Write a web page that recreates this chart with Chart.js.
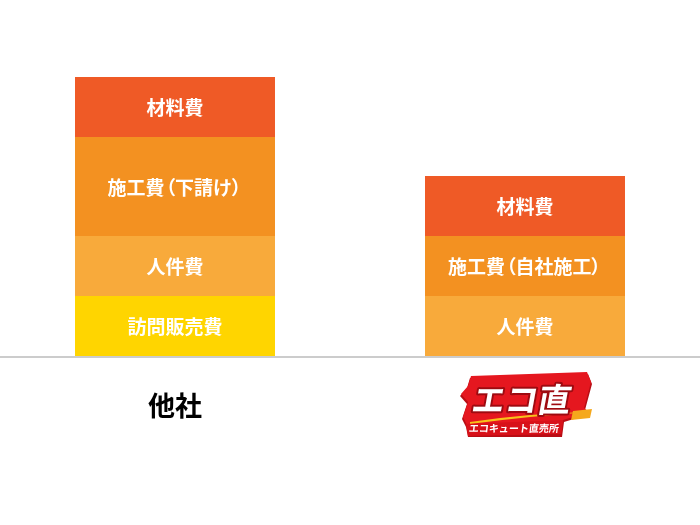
<!DOCTYPE html>
<html>
<head>
<meta charset="utf-8">
<script src="https://cdn.jsdelivr.net/npm/chart.js@4/dist/chart.umd.min.js"></script>
<style>
html,body{margin:0;padding:0;background:#fff;}
canvas{display:block;}
</style>
</head>
<body>
<canvas id="c" width="700" height="525"></canvas>
<script>
// ---- data ----
const categories = ['他社', 'エコ直'];
const logoSubtitle = 'エコキュート直売所';
const seriesNames = ['訪問販売費', '人件費', '施工費', '材料費'];
const houmonValues = [20, 0];
const jinkenValues = [20, 20];
const sekouValues = [33, 20];
const zairyouValues = [20, 20];
const houmonLabels = ['訪問販売費', ''];
const jinkenLabels = ['人件費', '人件費'];
const sekouLabels = ['施工費（下請け）', '施工費（自社施工）'];
const zairyouLabels = ['材料費', '材料費'];
const yMax = 110;

const FONT = '"Noto Sans CJK JP", "Noto Sans", sans-serif';

// draw text with proportional (half-width) full-width parentheses
function drawPropText(ctx, txt, cx, cy, size) {
  const chars = Array.from(txt);
  const adv = chars.map(ch => (ch === '（' || ch === '）') ? size * 0.55 : ctx.measureText(ch).width);
  const total = adv.reduce((a, b) => a + b, 0);
  let x = cx - total / 2;
  ctx.textAlign = 'left';
  chars.forEach((ch, i) => {
    let dx = 0;
    if (ch === '（') dx = -(size - adv[i]) + size * 0.05;
    if (ch === '）') dx = -size * 0.05;
    ctx.fillText(ch, x + dx, cy);
    x += adv[i];
  });
}

const segLabelPlugin = {
  id: 'segLabels',
  afterDatasetsDraw(chart) {
    const ctx = chart.ctx;
    const size = 19;
    ctx.save();
    ctx.fillStyle = '#ffffff';
    ctx.font = 'bold ' + size + 'px ' + FONT;
    ctx.textBaseline = 'middle';
    chart.data.datasets.forEach((ds, di) => {
      const meta = chart.getDatasetMeta(di);
      meta.data.forEach((el, i) => {
        const txt = ds.segLabels[i];
        if (!txt || !ds.data[i]) return;
        const p = el.getProps(['x', 'y', 'base'], true);
        drawPropText(ctx, txt, p.x, (p.y + p.base) / 2 + 1, size);
      });
    });
    ctx.restore();
  }
};

const axisPlugin = {
  id: 'axisAndCats',
  afterDraw(chart) {
    const ctx = chart.ctx;
    const ys = chart.scales.y, xs = chart.scales.x;
    const y0 = ys.getPixelForValue(0);
    ctx.save();
    ctx.fillStyle = '#cccccc';
    ctx.fillRect(0, Math.round(y0), chart.width, 2);

    const x1 = xs.getPixelForValue(0);
    ctx.fillStyle = '#000';
    ctx.font = 'bold 27px ' + FONT;
    ctx.textAlign = 'center';
    ctx.textBaseline = 'middle';
    ctx.fillText(categories[0], x1, y0 + 50);

    const cx = xs.getPixelForValue(1);
    const cy = y0 + 47;
    drawLogo(ctx, cx, cy, categories[1], logoSubtitle);
    ctx.restore();
  }
};

function poly(ctx, pts, ox, oy, color) {
  ctx.beginPath();
  pts.forEach((p, i) => i ? ctx.lineTo(ox + p[0], oy + p[1]) : ctx.moveTo(ox + p[0], oy + p[1]));
  ctx.closePath();
  ctx.fillStyle = color;
  ctx.fill();
}

function drawLogo(ctx, cx, cy, title, sub) {
  const ox = cx, oy = cy;
  poly(ctx, [[-55,-26],[63,-30],[67,-20],[60,6],[65,10],[39,18],[37,33],[-57,33],[-59,23],[-63,15],[-58,0],[-65,-8],[-58,-16]], ox, oy + 1, '#b80d14');
  poly(ctx, [[-54,-27],[62,-31],[66,-21],[59,5],[64,9],[38,17],[36,31],[-56,31],[-58,22],[-62,14],[-57,-1],[-64,-9],[-57,-17]], ox, oy, '#e5171f');
  ctx.beginPath();
  ctx.moveTo(ox - 55, oy + 19);
  ctx.quadraticCurveTo(ox + 5, oy + 10, ox + 66, oy + 9);
  ctx.quadraticCurveTo(ox + 5, oy + 13, ox - 55, oy + 21);
  ctx.closePath();
  ctx.fillStyle = '#f7c21a';
  ctx.fill();
  poly(ctx, [[48,8],[67,6],[65,15],[46,17]], ox, oy, '#f5a81c');
  poly(ctx, [[-59,21],[38,17],[36,31],[-57,33]], ox, oy, '#d81119');

  ctx.save();
  ctx.translate(ox - 3, oy - 4);
  ctx.transform(1, 0, -0.18, 1, 0, 0);
  ctx.font = 'bold 33px ' + FONT;
  ctx.textAlign = 'center';
  ctx.textBaseline = 'middle';
  ctx.lineJoin = 'round';
  ctx.lineWidth = 4;
  ctx.strokeStyle = '#9e0a10';
  ctx.strokeText(title, 0, 0);
  ctx.fillStyle = '#ffffff';
  ctx.fillText(title, 0, 0);
  ctx.restore();

  ctx.save();
  ctx.translate(ox - 11, oy + 25);
  ctx.transform(1, 0, -0.12, 1, 0, 0);
  ctx.font = 'bold 10px ' + FONT;
  ctx.textAlign = 'center';
  ctx.textBaseline = 'middle';
  ctx.fillStyle = '#ffffff';
  ctx.fillText(sub, 0, 0);
  ctx.restore();
}

new Chart(document.getElementById('c'), {
  type: 'bar',
  data: {
    labels: categories,
    datasets: [
      { label: seriesNames[0], data: houmonValues, segLabels: houmonLabels, backgroundColor: '#ffd500' },
      { label: seriesNames[1], data: jinkenValues, segLabels: jinkenLabels, backgroundColor: '#f8aa3b' },
      { label: seriesNames[2], data: sekouValues, segLabels: sekouLabels, backgroundColor: '#f39121' },
      { label: seriesNames[3], data: zairyouValues, segLabels: zairyouLabels, backgroundColor: '#ef5a26' }
    ]
  },
  options: {
    responsive: false,
    animation: false,
    layout: { padding: { top: 26, bottom: 169, left: 0, right: 0 } },
    datasets: { bar: { categoryPercentage: 1, barPercentage: 0.5714, borderWidth: 0 } },
    plugins: { legend: { display: false }, tooltip: { enabled: false } },
    scales: {
      x: { stacked: true, display: false },
      y: { stacked: true, display: false, min: 0, max: yMax }
    }
  },
  plugins: [segLabelPlugin, axisPlugin]
});
</script>
</body>
</html>
